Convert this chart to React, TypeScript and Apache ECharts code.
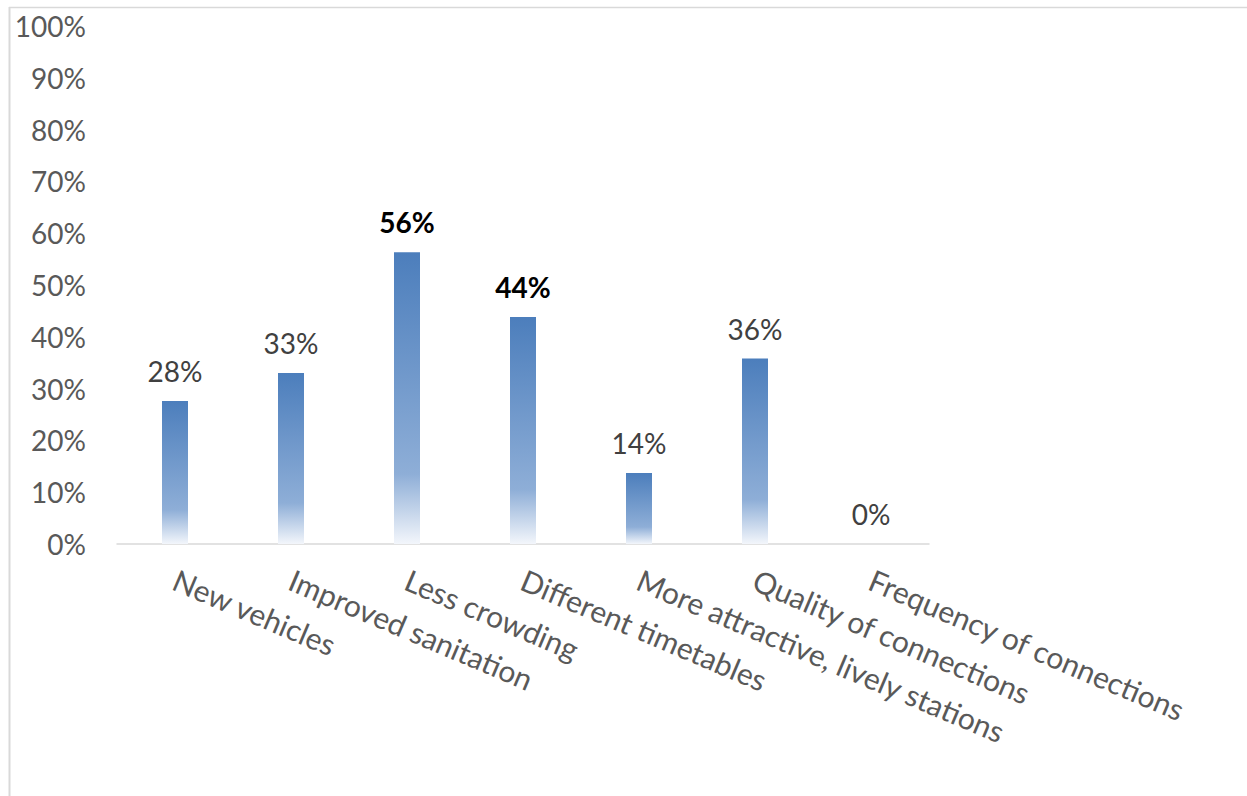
import React, { useEffect, useRef } from "react";
import * as echarts from "echarts";

const categories = [
  "New vehicles",
  "Improved sanitation",
  "Less crowding",
  "Different timetables",
  "More attractive, lively stations",
  "Quality of connections",
  "Frequency of connections",
];
const values = [27.6, 33.0, 56.3, 43.8, 13.7, 35.8, 0];
const highlighted = ["Less crowding", "Different timetables"];
const yTicks = [0, 10, 20, 30, 40, 50, 60, 70, 80, 90, 100];

export default function App() {
  const ref = useRef<HTMLDivElement>(null);
  useEffect(() => {
    document.body.style.margin = "0";
    if (!ref.current) return;
    const chart = echarts.init(ref.current, null, { renderer: "svg" });
    const font = "Lato, 'Liberation Sans', sans-serif";
    const option: any = {
      animation: false,
      backgroundColor: "#ffffff",
      textStyle: { fontFamily: font },
      graphic: [
        { type: "line", shape: { x1: 9.5, y1: 7, x2: 9.5, y2: 796 }, style: { stroke: "#d9d9d9", lineWidth: 2 } },
        { type: "line", shape: { x1: 9, y1: 7.5, x2: 1247, y2: 7.5 }, style: { stroke: "#d9d9d9", lineWidth: 1.5 } },
      ],
      grid: { left: 117, right: 318, top: 26, bottom: 252, containLabel: false },
      xAxis: {
        type: "category",
        data: categories,
        axisLine: { show: true, lineStyle: { color: "#d9d9d9", width: 1.5 } },
        axisTick: { show: false },
        axisLabel: {
          interval: 0,
          rotate: -23,
          margin: 34,
          color: "#595959",
          fontSize: 30,
          fontFamily: font,
        },
      },
      yAxis: {
        type: "value",
        min: 0,
        max: 100,
        interval: 10,
        axisLine: { show: false },
        axisTick: { show: false },
        splitLine: { show: false },
        axisLabel: {
          margin: 31,
          color: "#595959",
          fontSize: 28,
          fontFamily: font,
          formatter: (v: number) => (yTicks.includes(v) ? v + "%" : ""),
        },
      },
      series: [
        {
          type: "bar",
          barWidth: 26,
          data: values.map((v, i) => {
            const bold = highlighted.includes(categories[i]);
            return {
              value: v,
              label: bold
                ? { fontWeight: "bold", color: "#000000" }
                : undefined,
            };
          }),
          itemStyle: {
            color: new echarts.graphic.LinearGradient(0, 0, 0, 1, [
              { offset: 0, color: "#4c7ebc" },
              { offset: 0.76, color: "#8eaed7" },
              { offset: 1, color: "#f3f6fb" },
            ]),
          },
          label: {
            show: true,
            position: "top",
            distance: 16,
            color: "#404040",
            fontSize: 28,
            fontFamily: font,
            formatter: (p: any) => Math.round(p.value) + "%",
          },
        },
      ],
    };
    chart.setOption(option);
    return () => chart.dispose();
  }, []);
  return <div ref={ref} style={{ width: 1247, height: 796 }} />;
}
